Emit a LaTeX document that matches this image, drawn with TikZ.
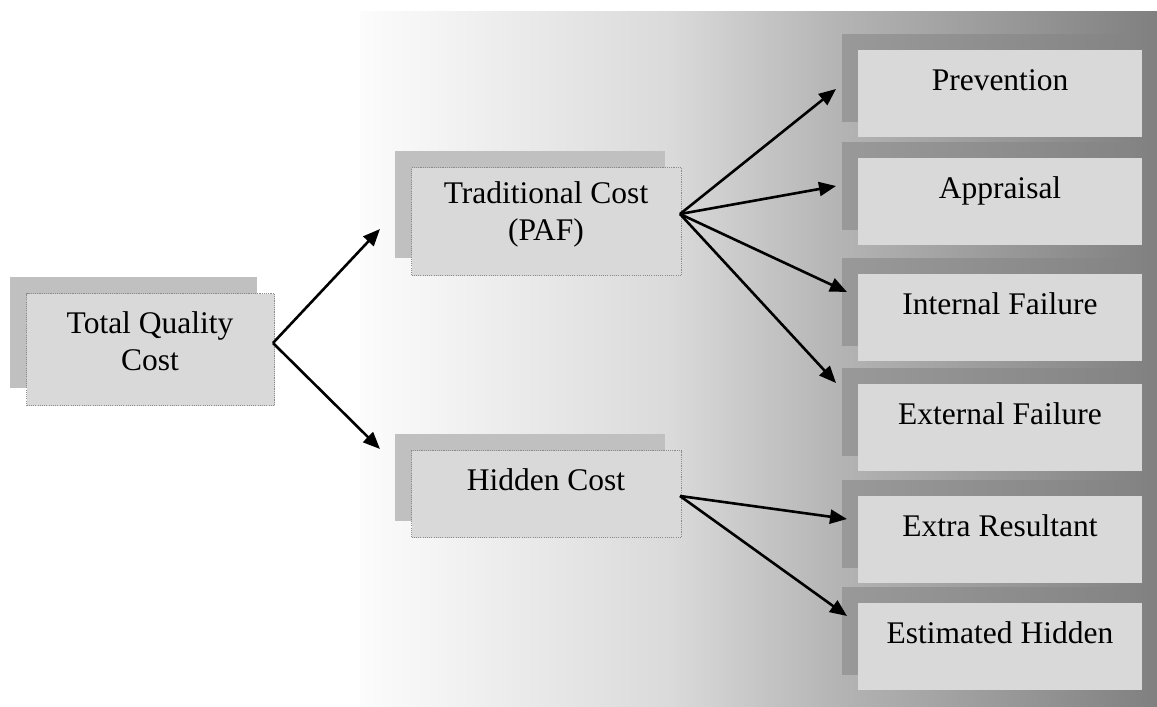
\documentclass[tikz,border=0pt]{standalone}
\usepackage{fontspec}
\setmainfont{Liberation Serif}
\usetikzlibrary{arrows.meta}
\definecolor{boxfill}{HTML}{D9D9D9}
\definecolor{leftshadow}{HTML}{C0C0C0}
\definecolor{edgegray}{HTML}{8C8C8C}
\definecolor{bgA}{HTML}{FCFCFC}
\definecolor{bgB}{HTML}{DADADA}
\definecolor{bgC}{HTML}{B4B4B4}
\definecolor{bgD}{HTML}{808080}
% backdrop gradient, light on the left and mid gray on the right
% (TikZ maps the filled area onto the 25bp--75bp band of the shading)
\pgfdeclarehorizontalshading{backdrop}{100bp}{color(0bp)=(bgA); color(25bp)=(bgA); color(44.5bp)=(bgB); color(55bp)=(bgC); color(75bp)=(bgD); color(100bp)=(bgD)}
\begin{document}
\begin{tikzpicture}[x=1pt,y=-1pt,
  lbl/.style={font=\fontsize{31.5}{37}\selectfont, anchor=base, inner sep=0pt},
  front/.style={fill=boxfill, draw=none, inner sep=0pt, anchor=north west},
  dottedfront/.style={front, draw=edgegray, line width=1.1pt, dash pattern=on 1.1pt off 1.1pt},
  lshade/.style={fill=leftshadow, draw=none, inner sep=0pt, anchor=north west},
  rshade/.style={left color=black!40, right color=black!48, draw=none, inner sep=0pt, anchor=north west},
  link/.style={line width=2.6pt, -{Triangle[length=17pt,width=14pt]}},
  smallbox/.style={minimum width=248pt, minimum height=112pt},
  midbox/.style={minimum width=270pt},
  sidebox/.style={minimum width=284pt, minimum height=87pt}
]
\useasboundingbox (0,0) rectangle (1157,707);
\fill[white] (0,0) rectangle (1157,707);

% gradient backdrop behind the right half
\shade[shading=backdrop] (360,11) rectangle (1157,707);

% root box
\node[lshade, smallbox, minimum width=247pt, minimum height=111pt] (tq-sh) at (10,277) {};
\node[dottedfront, smallbox] (tq) at (26,293) {};
\node[lbl] (tq-l1) at (150,333) {Total Quality};
\node[lbl] (tq-l2) at (150,370) {Cost};

% second level
\node[lshade, midbox, minimum height=107pt] (tc-sh) at (395,151) {};
\node[dottedfront, midbox, minimum height=108pt] (tc) at (411,167) {};
\node[lbl] (tc-l1) at (546,203) {Traditional Cost};
\node[lbl] (tc-l2) at (546,240) {(PAF)};

\node[lshade, midbox, minimum height=87pt] (hc-sh) at (395,434) {};
\node[dottedfront, midbox, minimum height=87pt] (hc) at (411,450) {};
\node[lbl] (hc-l1) at (546,490) {Hidden Cost};

% third level
\foreach \nm/\top/\txt in {pv/50/Prevention, ap/158/Appraisal, inf/274/Internal Failure,
    exf/384/External Failure, er/496/Extra Resultant, eh/603/Estimated Hidden}{
  \node[rshade, sidebox] (\nm-sh) at (842,\top-16) {};
  \node[front, sidebox] (\nm) at (858,\top) {};
  \node[lbl] (\nm-l) at (1000,\top+40) {\txt};
}

% connector ends
\coordinate (tq-out) at (273,343);
\coordinate (tc-in) at (380,229);
\coordinate (hc-in) at (380,449);
\coordinate (tc-out) at (680,214);
\coordinate (hc-out) at (680,496);
\coordinate (pv-in) at (836,89);
\coordinate (ap-in) at (836,186);
\coordinate (inf-in) at (847,292);
\coordinate (exf-in) at (836,383);
\coordinate (er-in) at (847,519);
\coordinate (eh-in) at (847,616);

\draw[link] (tq-out) -- (tc-in);
\draw[link] (tq-out) -- (hc-in);
\draw[link] (tc-out) -- (pv-in);
\draw[link] (tc-out) -- (ap-in);
\draw[link] (tc-out) -- (inf-in);
\draw[link] (tc-out) -- (exf-in);
\draw[link] (hc-out) -- (er-in);
\draw[link] (hc-out) -- (eh-in);
\end{tikzpicture}
\end{document}
